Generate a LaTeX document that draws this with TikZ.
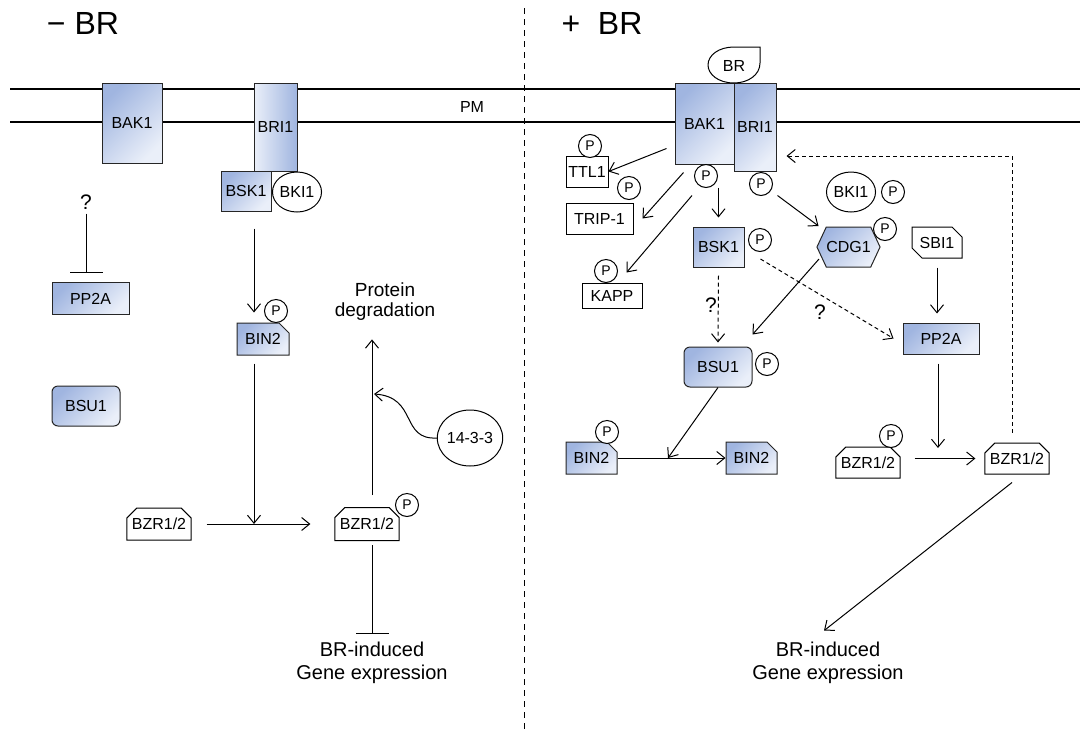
\documentclass[tikz,border=0pt]{standalone}
\usepackage{fontspec}
\setmainfont{Liberation Sans}
\usepackage{tikz}
\usetikzlibrary{arrows.meta,shapes.geometric,shapes.misc,shapes.symbols}

\definecolor{protdark}{HTML}{A0B5E0}
\definecolor{protlight}{HTML}{EAEFF9}

\tikzset{
  prot/.style={draw=black!85, line width=1pt, top color=protdark, bottom color=protlight,
    shading angle=45, inner sep=0pt, font=\fontsize{16}{18}\selectfont},
  plainbox/.style={draw, line width=1pt, fill=white, inner sep=0pt, font=\fontsize{16}{18}\selectfont},
  notch/.style={chamfered rectangle, chamfered rectangle corners={#1}, chamfered rectangle sep=5pt},
  phos/.style={circle, draw, fill=white, line width=1pt, minimum size=23pt, inner sep=0pt,
    font=\fontsize{14}{16}\selectfont},
  act/.style={-{Straight Barb[length=8pt,width=13pt]}, line width=1pt},
  dact/.style={act, dash pattern=on 4pt off 3pt},
  inh/.style={-{Bar[width=33pt]}, line width=1pt},
  heading/.style={font=\fontsize{32}{36}\selectfont},
  lbl/.style={align=center, font=\fontsize{20}{23}\selectfont},
  quest/.style={font=\fontsize{21}{23}\selectfont, inner sep=1pt}
}

\begin{document}
\begin{tikzpicture}[x=1pt,y=-1pt]
  \useasboundingbox (0,0) rectangle (1080,732);

  % membrane and divider
  \draw[line width=2pt] (10,89) -- (1080,89);
  \draw[line width=1.2pt] (10,122) -- (1080,122);
  \draw[dash pattern=on 6pt off 5pt, line width=1pt] (524,8) -- (524,732);
  \node[font=\fontsize{16}{18}\selectfont] (pm) at (472,107) {PM};

  % titles
  \node[heading] (minus) at (83,23) {−\;BR};
  \node[heading] (plus) at (602,23) {+\;\;BR};

  % ---- without BR ----
  \node[prot, minimum width=60pt, minimum height=80pt] (bakL) at (132,123) {BAK1};
  \node[prot, left color=protlight, right color=protdark, minimum width=43pt, minimum height=88pt] (briL) at (275.5,127) {BRI1};
  \node[prot, minimum width=50pt, minimum height=40pt] (bskL) at (246,191) {BSK1};
  \node[plainbox, ellipse, minimum width=49pt, minimum height=40pt] (bkiL) at (297,192) {BKI1};
  \node[quest] (qL) at (86,202) {?};
  \node[prot, minimum width=77pt, minimum height=32pt] (pp2aL) at (90.5,298.5) {PP2A};
  \node[prot, rounded corners=6pt, minimum width=68pt, minimum height=40pt] (bsuL) at (86,406) {BSU1};
  \node[prot, notch=north east, minimum width=52pt, minimum height=32pt] (bin2L) at (263,339) {BIN2};
  \node[phos] (pBinL) at (276,311) {P};
  \node[plainbox, notch={north west,north east}, minimum width=58pt, minimum height=32pt] (bzrA) at (159,524) {BZR1/2};
  \node[plainbox, notch={north west,north east}, minimum width=59pt, minimum height=33pt] (bzrB) at (367,524) {BZR1/2};
  \node[phos] (pBzrB) at (407,505) {P};
  \node[align=center, font=\fontsize{19}{20}\selectfont] (degr) at (385,302) {Protein\\degradation};
  \node[plainbox, ellipse, minimum width=60pt, minimum height=56pt] (f1433) at (470,438) {14-3-3};
  \node[lbl] (geneL) at (372,663) {BR-induced\\Gene expression};

  \draw[inh, shorten <=3pt, shorten >=9pt] (qL.south) -- (qL.south |- pp2aL.north);
  \draw[act, shorten <=17pt, shorten >=10pt] ([xshift=8pt]bskL.south) -- ([xshift=8pt]bskL.south |- bin2L.north);
  \coordinate (jL) at (254,524);
  \draw[act, shorten <=8pt] ([xshift=-9pt]bin2L.south) -- (jL);
  \draw[act, shorten <=15pt, shorten >=24pt] (bzrA.east) -- (bzrB.west);
  \draw[act, shorten <=12pt, shorten >=15pt] ([xshift=5pt]bzrB.north) -- ([xshift=5pt]bzrB.north |- degr.south);
  \draw[inh, shorten <=4pt, shorten >=5pt] ([xshift=5pt]bzrB.south) -- ([xshift=5pt]bzrB.south |- geneL.north);
  \coordinate (hit) at (374,394);
  \draw[act] (f1433.west) .. controls (400,440) and (418,397) .. (hit);

  % ---- with BR ----
  \node[prot, minimum width=59pt, minimum height=81pt] (bakR) at (704.5,123.5) {BAK1};
  \node[prot, minimum width=42pt, minimum height=88pt] (briR) at (755,127) {BRI1};
  \draw[line width=1pt, fill=white] (760,47) -- (760,63) .. controls (760,75) and (748,83) .. (734,83)
    .. controls (718,83) and (708,74) .. (708,65) .. controls (708,55) and (719,47) .. (734,47) -- cycle;
  \node[font=\fontsize{16}{18}\selectfont] (br) at (734,66) {BR};

  \node[plainbox, minimum width=42pt, minimum height=31pt] (ttl) at (587,171.5) {TTL1};
  \node[phos] (pTtl) at (590,146) {P};
  \node[plainbox, minimum width=67pt, minimum height=31pt] (trip) at (599.5,218.5) {TRIP-1};
  \node[phos] (pTrip) at (629,188) {P};
  \node[plainbox, minimum width=60pt, minimum height=25pt] (kapp) at (612,295.5) {KAPP};
  \node[phos] (pKapp) at (606,271) {P};
  \node[phos] (pBak) at (706,176) {P};
  \node[phos] (pBri) at (761,184) {P};
  \node[plainbox, ellipse, minimum width=48pt, minimum height=40pt] (bkiR) at (851,192) {BKI1};
  \node[phos] (pBki) at (893,192) {P};
  \node[prot, minimum width=51pt, minimum height=40pt] (bskR) at (718.5,247) {BSK1};
  \node[phos] (pBsk) at (760,240) {P};
  \node[prot, signal, signal to=east and west, signal pointer angle=130, minimum width=59pt, minimum height=40pt] (cdg) at (848.5,247) {CDG1};
  \node[phos] (pCdg) at (885,229) {P};
  \node[plainbox, notch={north east,south west}, minimum width=50pt, minimum height=31pt] (sbi) at (937,242.5) {SBI1};
  \node[quest] (qR1) at (711,305) {?};
  \node[quest] (qR2) at (820,312) {?};
  \node[prot, minimum width=76pt, minimum height=31pt] (pp2aR) at (941,338.5) {PP2A};
  \node[prot, rounded corners=6pt, minimum width=68pt, minimum height=40pt] (bsuR) at (718,367) {BSU1};
  \node[phos] (pBsu) at (767,364) {P};
  \node[prot, notch=north east, minimum width=51pt, minimum height=32pt] (bin2A) at (591.5,458) {BIN2};
  \node[phos] (pBin2A) at (607,432) {P};
  \node[prot, notch=north east, minimum width=51pt, minimum height=32pt] (bin2B) at (751.5,458) {BIN2};
  \node[plainbox, notch={north west,north east}, minimum width=60pt, minimum height=31pt] (bzrC) at (868,462.5) {BZR1/2};
  \node[phos] (pBzrC) at (891,436) {P};
  \node[plainbox, notch={north west,north east}, minimum width=60pt, minimum height=31pt] (bzrD) at (1017,458.5) {BZR1/2};
  \node[lbl] (geneR) at (828,663) {BR-induced\\Gene expression};

  \draw[act] ([shift={(-8,25)}]bakR.west) -- (ttl.east);
  \draw[act] ([shift={(-21,8)}]bakR.south) -- ([shift={(9,0)}]trip.east);
  \draw[act] ([shift={(-12.5,31)}]bakR.south) -- ([shift={(-16,-10)}]kapp.north east);
  \draw[act] ([yshift=39pt]bskR.north) -- ([yshift=9pt]bskR.north);
  \draw[act] ([shift={(1,24)}]briR.south east) -- ([shift={(-30,-21)}]cdg.center);
  \draw[dact] ([yshift=-8pt]bskR.south) -- ([yshift=4pt]bsuR.north);
  \draw[dact] ([shift={(16,12)}]bskR.east) -- ([xshift=-9pt]pp2aR.west);
  \draw[act] ([shift={(-29.5,12)}]cdg.center) -- ([shift={(0,-12)}]bsuR.north east);
  \draw[act, shorten <=9pt, shorten >=9pt] (sbi.south) -- (sbi.south |- pp2aR.north);
  \coordinate (jR) at (938,448);
  \draw[act, shorten <=9pt] ([xshift=-3pt]pp2aR.south) -- (jR);
  \coordinate (jB) at (668,458);
  \draw[act] (bsuR.south) -- (jB);
  \draw[act] (bin2A.east) -- (bin2B.west);
  \draw[act, shorten <=14pt, shorten >=9pt] (bzrD.west -| bzrC.east) -- (bzrD.west);
  \draw[dact] ([shift={(-5,-10)}]bzrD.north) |- ([shift={(10,29)}]briR.east);
  \draw[act] ([shift={(-5,8)}]bzrD.south) -- ([shift={(-4,-8)}]geneR.north);
\end{tikzpicture}
\end{document}
